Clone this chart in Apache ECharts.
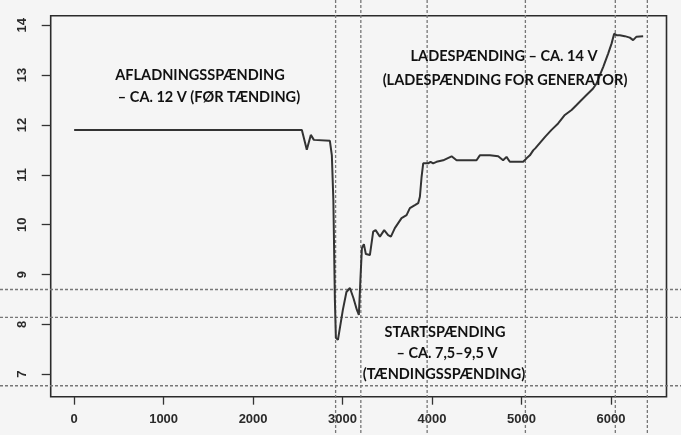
<!DOCTYPE html>
<html>
<head>
<meta charset="utf-8">
<script src="https://cdn.jsdelivr.net/npm/echarts@6/dist/echarts.min.js"></script>
<style>
  html, body { margin: 0; padding: 0; background: #f5f5f5; }
  #chart { width: 681px; height: 435px; }
</style>
</head>
<body>
<div id="chart"></div>
<script>
// Battery voltage during a start sequence (sample index vs. volts)
var samples = [0, 2545, 2600, 2645, 2679, 2858, 2880, 2897, 2914, 2925, 2948, 2970, 3003, 3043, 3082, 3121, 3160, 3182, 3199, 3216,
  3238, 3260, 3305, 3342, 3369, 3417, 3465, 3509, 3540, 3584, 3659, 3715, 3752, 3808, 3845, 3864, 3883, 3901, 3920, 3956,
  3983, 4012, 4050, 4124, 4218, 4274, 4497, 4534, 4646, 4739, 4794, 4832, 4869, 5018, 5056, 5093, 5130, 5153, 5263, 5335,
  5409, 5484, 5559, 5615, 5670, 5726, 5800, 5838, 5875, 5912, 5968, 6006, 6035, 6061, 6098, 6154, 6210, 6247, 6285, 6359];
var volts = [11.90, 11.90, 11.50, 11.80, 11.70, 11.68, 11.39, 10.49, 8.49, 7.73, 7.69, 7.73, 8.29, 8.65, 8.73, 8.53, 8.29, 8.19, 8.89, 9.53,
  9.61, 9.41, 9.39, 9.86, 9.89, 9.76, 9.89, 9.79, 9.76, 9.93, 10.13, 10.19, 10.33, 10.39, 10.43, 10.56, 10.96, 11.23, 11.26, 11.23,
  11.26, 11.23, 11.26, 11.29, 11.37, 11.29, 11.29, 11.39, 11.39, 11.37, 11.29, 11.36, 11.26, 11.26, 11.33, 11.39, 11.49, 11.53, 11.76, 11.90,
  12.03, 12.20, 12.30, 12.40, 12.50, 12.60, 12.73, 12.83, 13.00, 13.16, 13.43, 13.63, 13.83, 13.80, 13.80, 13.78, 13.75, 13.70, 13.77, 13.78];

// Vertical markers (event samples) and horizontal markers (reference volts)
var eventSamples = [2922, 3204, 3945, 5043, 6048, 6406];
var refVolts = [8.70, 8.14, 6.77];

// Tick labels
var xTicks = [0, 1000, 2000, 3000, 4000, 5000, 6000];
var yTicks = [7, 8, 9, 10, 11, 12, 13, 14];

// Annotation lines, each centred on its own x
var notes = [
  { lines: ['AFLADNINGSSPÆNDING', '– CA. 12 V (FØR TÆNDING)'], x: [200, 209], y: [75, 97] },
  { lines: ['LADESPÆNDING – CA. 14 V', '(LADESPÆNDING FOR GENERATOR)'], x: [504, 505], y: [56, 80] },
  { lines: ['STARTSPÆNDING', '– CA. 7,5–9,5 V', '(TÆNDINGSSPÆNDING)'], x: [445, 447, 444], y: [332, 353, 374] }
];

var W = 681, H = 435;
var chart = echarts.init(document.getElementById('chart'), null, { renderer: 'canvas', width: W, height: H });

var tickFont = { fontFamily: 'Liberation Sans', fontSize: 13, fontWeight: 'bold', color: '#2a2a2a' };

chart.setOption({
  animation: false,
  backgroundColor: '#f5f5f5',
  grid: {
    left: 50.7, right: 14.5, top: 15.7, bottom: 38.3,
    show: true, borderColor: '#2b2b2b', borderWidth: 1.6, backgroundColor: 'transparent'
  },
  xAxis: {
    type: 'value', min: -262, max: 6620,
    splitLine: { show: false },
    axisLine: { show: false, onZero: false },
    axisTick: { show: true, length: 8, lineStyle: { color: '#333', width: 1.3 }, customValues: xTicks },
    axisLabel: Object.assign({ margin: 16, customValues: xTicks, formatter: function (v) { return String(v); } }, tickFont)
  },
  yAxis: {
    type: 'value', min: 6.55, max: 14.19,
    splitLine: { show: false },
    axisLine: { show: false, onZero: false },
    axisTick: { show: true, length: 9, lineStyle: { color: '#333', width: 1.3 }, customValues: yTicks },
    axisLabel: Object.assign({ margin: 22, rotate: 90, customValues: yTicks, formatter: function (v) { return String(v); } }, tickFont)
  },
  series: [{
    type: 'line',
    data: samples.map(function (s, i) { return [s, volts[i]]; }),
    showSymbol: false,
    lineStyle: { color: '#333', width: 2 },
    z: 5
  }]
});

// Reference lines run across the whole canvas, positioned through the chart's scales
var graphics = [];
var dash = { stroke: '#777', lineWidth: 1.3, lineDash: [3, 2] };
eventSamples.forEach(function (s) {
  var px = chart.convertToPixel({ gridIndex: 0 }, [s, 10])[0];
  graphics.push({ type: 'line', z: 1, shape: { x1: px, y1: 0, x2: px, y2: H }, style: dash, silent: true });
});
refVolts.forEach(function (v) {
  var py = chart.convertToPixel({ gridIndex: 0 }, [0, v])[1];
  graphics.push({ type: 'line', z: 1, shape: { x1: 0, y1: py, x2: W, y2: py }, style: dash, silent: true });
});
notes.forEach(function (n) {
  n.lines.forEach(function (t, i) {
    graphics.push({
      type: 'text', z: 10, x: n.x[i], y: n.y[i],
      style: {
        text: t, fill: '#111', font: 'bold 14.5px Lato',
        textAlign: 'center', textVerticalAlign: 'middle'
      }
    });
  });
});
chart.setOption({ graphic: graphics });
</script>
</body>
</html>
